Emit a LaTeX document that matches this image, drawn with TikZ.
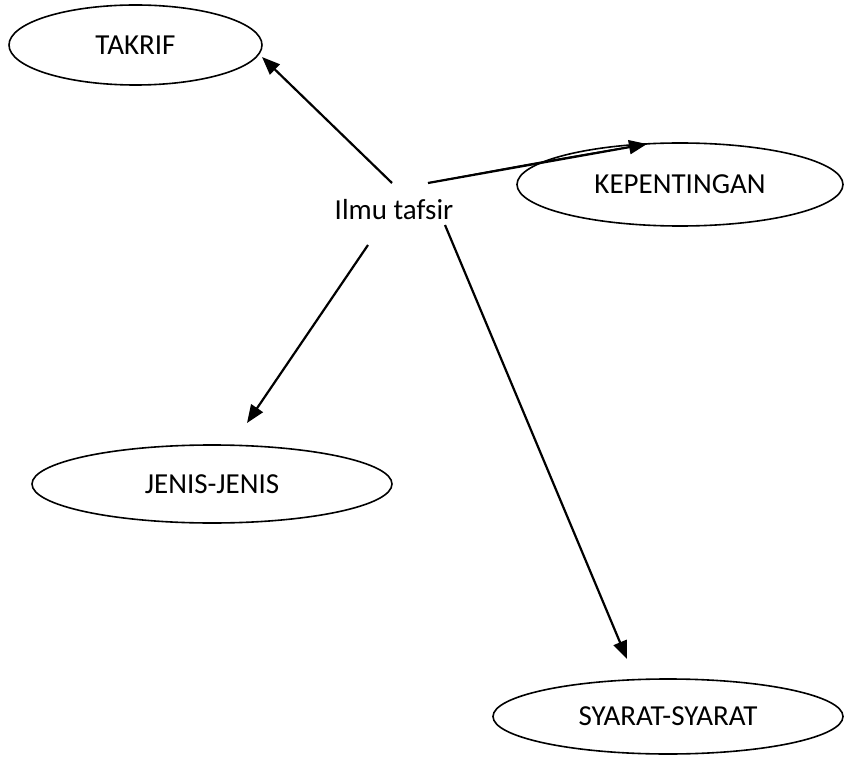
\documentclass[tikz,border=0pt]{standalone}
\usepackage{fontspec}
\setmainfont{Carlito}
\usetikzlibrary{shapes.geometric,arrows.meta}
\begin{document}
\begin{tikzpicture}[x=1pt,y=-1pt,
  bubble/.style={draw,ellipse,line width=1.6pt,inner sep=0pt,font=\fontsize{29}{33}\selectfont},
  link/.style={line width=2.2pt,-{Triangle[length=18pt,width=14pt]}},
  hub/.style={inner sep=0pt,font=\fontsize{29}{33}\selectfont}]
\useasboundingbox (0,0) rectangle (844,757);
\node[bubble,minimum width=253pt,minimum height=80pt] (takrif) at (135.5,45) {TAKRIF};
\node[bubble,minimum width=326pt,minimum height=83pt] (kep) at (680,184.5) {KEPENTINGAN};
\node[bubble,minimum width=360pt,minimum height=78pt] (jenis) at (212,484) {JENIS-JENIS};
\node[bubble,minimum width=350pt,minimum height=75pt] (syarat) at (668,716.5) {SYARAT-SYARAT};
\node[hub] (ilmu) at (394,210) {Ilmu tafsir};
\coordinate (s1) at (392,183);
\coordinate (t1) at (262,57);
\coordinate (s2) at (428,183);
\coordinate (t2) at (647,144);
\coordinate (s3) at (368,245);
\coordinate (t3) at (247,423);
\coordinate (s4) at (445,225);
\coordinate (t4) at (627,659);
\draw[link] (s1) -- (t1);
\draw[link] (s2) -- (t2);
\draw[line width=1.2pt] (s2) .. controls (540,162) .. (t2);
\draw[link] (s3) -- (t3);
\draw[link] (s4) -- (t4);
\end{tikzpicture}
\end{document}
